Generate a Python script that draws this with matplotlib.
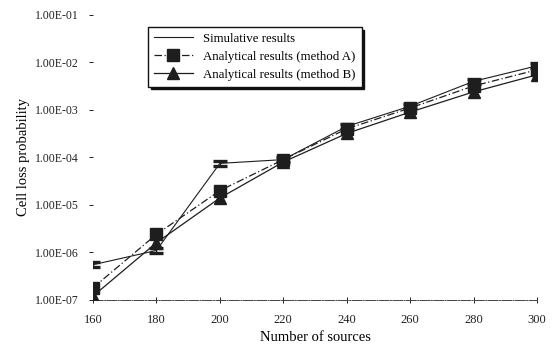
import matplotlib.pyplot as plt
from matplotlib.lines import Line2D
from matplotlib.ticker import FixedLocator, FuncFormatter
import numpy as np

plt.rcParams['font.family'] = ['Liberation Serif', 'DejaVu Serif']

sources = [160, 180, 200, 220, 240, 260, 280, 300]
simulative = [5.5e-7, 1.1e-6, 7.5e-5, 9.0e-5, 4.5e-4, 1.2e-3, 4.0e-3, 8.5e-3]
method_a = [1.8e-7, 2.4e-6, 2.0e-5, 9.0e-5, 4.0e-4, 1.1e-3, 3.2e-3, 7.0e-3]
method_b = [1.2e-7, 1.6e-6, 1.4e-5, 8.0e-5, 3.2e-4, 9.0e-4, 2.4e-3, 5.5e-3]
y_ticks = [1e-7, 1e-6, 1e-5, 1e-4, 1e-3, 1e-2, 1e-1]

fig = plt.figure(figsize=(5.57, 3.57), dpi=100)
ax = fig.add_axes([0.167, 0.16, 0.797, 0.798])

ink = '#1e1e1e'

# simulation points carry small confidence bars
sim = np.array(simulative)
ax.errorbar(sources, simulative, yerr=[sim * 0.1, sim * 0.12], color=ink,
            lw=0.8, capsize=5, capthick=2.4, elinewidth=1.0, zorder=3)
line_a, = ax.plot(sources, method_a, color=ink, lw=0.9, ls=(0, (6, 2, 1, 2)),
                  marker='s', ms=8, mfc=ink, mec=ink,
                  label='Analytical results (method A)', zorder=4)
line_b, = ax.plot(sources, method_b, color=ink, lw=0.9,
                  marker='^', ms=8, mfc=ink, mec=ink,
                  label='Analytical results (method B)', zorder=4)
line_sim = Line2D([], [], color=ink, lw=0.8, label='Simulative results')

ax.set_yscale('log')
ax.set_xlim(160, 300)
ax.set_ylim(1e-7, 1e-1)
ax.set_xticks(sources)
ax.yaxis.set_major_locator(FixedLocator(y_ticks))
ax.yaxis.set_minor_locator(FixedLocator([]))
ax.yaxis.set_major_formatter(FuncFormatter(lambda v, p: '%.2E' % v))

for side in ['top', 'right', 'left']:
    ax.spines[side].set_visible(False)
ax.spines['bottom'].set_linewidth(0.7)
ax.spines['bottom'].set_linestyle((0, (10, 1.5, 1, 1.5)))
ax.spines['bottom'].set_color('#444444')

ax.tick_params(axis='x', direction='inout', length=5, width=0.7,
               labelsize=9, pad=8, colors='#222222')
ax.tick_params(axis='y', direction='out', length=3, width=0.7,
               labelsize=8.5, pad=7, colors='#222222')

ax.set_xlabel('Number of sources', fontsize=10.5, labelpad=3)
ax.set_ylabel('Cell loss probability', fontsize=10.5, labelpad=4)

leg = ax.legend(handles=[line_sim, line_a, line_b], loc='upper left',
                bbox_to_anchor=(0.11, 0.98), fontsize=9.3,
                frameon=True, fancybox=False, edgecolor='#111111',
                shadow={'color': '#111111', 'alpha': 1.0},
                handlelength=3, borderpad=0.45, labelspacing=0.45)
leg.get_frame().set_linewidth(1.0)

fig.savefig('out.png', dpi=100)
